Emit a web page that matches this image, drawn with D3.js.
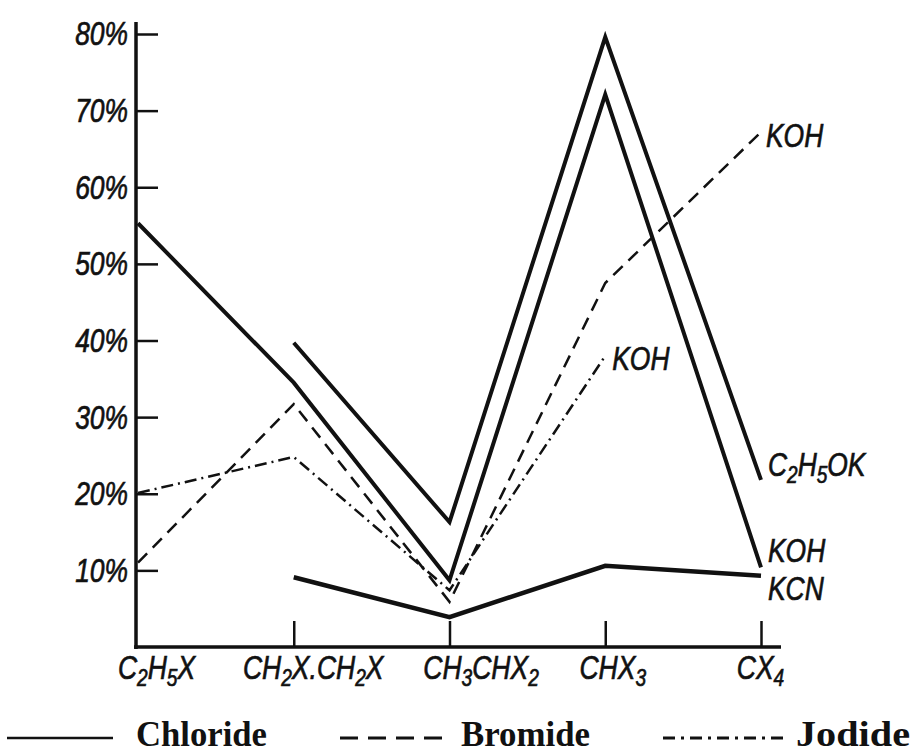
<!DOCTYPE html>
<html lang="en">
<head>
	<meta charset="UTF-8" />
	<script src="https://d3js.org/d3.v7.min.js"></script>
	<style type="text/css">
		body { margin: 0; background: #fff; }
		.lab { font-family: 'Liberation Sans', Arial, sans-serif; font-style: italic; fill: #111; stroke: #111; stroke-width: 0.7px; }
		.leg { font-family: 'Liberation Serif', 'DejaVu Serif', serif; font-weight: bold; fill: #111; }
	</style>
	<title>Halide yields</title>
</head>
<body>
<script type="text/javascript">
	// Data (percent yield per halide type)
	var categories = ["C2H5X", "CH2X.CH2X", "CH3CHX2", "CHX3", "CX4"];
	var yTicks = [10, 20, 30, 40, 50, 60, 70, 80];

	var chlorideKOH  = [55.3, 34.5, 8.7, 72.1, 10.4];
	var chlorideEtOK = [null, 39.7, 16.3, 79.6, 21.8];
	var chlorideKCN  = [null, 9.1, 3.9, 10.6, 9.3];
	var bromideKOH   = [11, 31.7, 5.9, 47.5, 67.2];
	var jodideKOH    = [20.1, 24.8, 7.4, 38, null];

	var legendNames = ["Chloride", "Bromide", "Jodide"];

	var w = 914, h = 754;

	var svg = d3.select("body").append("svg")
	    .attr("width", w)
	    .attr("height", h);

	// Scales
	var xScale = d3.scalePoint()
	    .domain(categories)
	    .range([138, 761]);

	var yScale = d3.scaleLinear()
	    .domain([0, 80])
	    .range([647, 34]);

	// write a formula with its digits as subscripts
	function formula(sel, str) {
		var parts = str.match(/\d+|\D+/g);
		var down = false;
		parts.forEach(function(p) {
			var isNum = /\d/.test(p);
			var t = sel.append("tspan").text(p);
			if (isNum) {
				t.attr("font-size", "0.72em").attr("dy", 7);
				down = true;
			} else if (down) {
				t.attr("dy", -7);
				down = false;
			}
		});
	}

	// squeeze a text horizontally, the book uses a narrow lettering
	function condense(sel, f) {
		sel.each(function() {
			var t = d3.select(this);
			var x = +t.attr("x") || 0, y = +t.attr("y") || 0;
			t.attr("x", 0).attr("y", 0)
			 .attr("transform", "translate(" + x + "," + y + ") scale(" + f + ",1)");
		});
	}

	// y axis: ticks point inward, labels on the left
	var yAxis = svg.append("g")
	    .attr("transform", "translate(136,0)")
	    .call(d3.axisLeft(yScale).tickValues(yTicks).tickSizeInner(-22).tickSizeOuter(0).tickPadding(8)
	        .tickFormat(function(d) { return d + "%"; }));
	yAxis.select(".domain").remove();
	yAxis.selectAll(".tick line").attr("stroke", "#111").attr("stroke-width", 2.5);
	yAxis.selectAll(".tick text")
	    .attr("class", "lab")
	    .attr("font-size", 33)
	    .attr("dy", "0.33em")
	    .call(condense, 0.8);

	// x axis: small upright ticks, formulas below (the print sets them a little off centre)
	var labelShift = [18, 19, 31, 7, -1];
	var xAxis = svg.append("g")
	    .attr("transform", "translate(0," + yScale(0) + ")")
	    .call(d3.axisBottom(xScale).tickSizeInner(-26).tickSizeOuter(0).tickFormat(""));
	xAxis.select(".domain").remove();
	xAxis.selectAll(".tick text").remove();
	xAxis.selectAll(".tick line")
	    .attr("stroke", "#111").attr("stroke-width", 2.5)
	    .filter(function(d, i) { return i === 0; }).remove();
	xAxis.selectAll(".tick").append("text")
	    .attr("class", "lab")
	    .attr("font-size", 34)
	    .attr("text-anchor", "middle")
	    .attr("x", function(d, i) { return labelShift[i]; })
	    .attr("y", 32)
	    .each(function(d) { formula(d3.select(this), d); })
	    .call(condense, 0.78);

	// axis lines
	svg.append("line")
	    .attr("x1", 136).attr("x2", 136)
	    .attr("y1", 22).attr("y2", yScale(0) + 2)
	    .attr("stroke", "#111").attr("stroke-width", 3.5);
	svg.append("line")
	    .attr("x1", 134).attr("x2", 781)
	    .attr("y1", yScale(0)).attr("y2", yScale(0))
	    .attr("stroke", "#111").attr("stroke-width", 3.5);

	var line = d3.line()
	    .defined(function(d) { return d != null; })
	    .x(function(d, i) { return xScale(categories[i]); })
	    .y(function(d) { return yScale(d); });

	var series = [
		{ values: chlorideKOH,  width: 4,   dash: null },
		{ values: chlorideEtOK, width: 4,   dash: null },
		{ values: chlorideKCN,  width: 4.5, dash: null },
		{ values: bromideKOH,   width: 2.5, dash: "13,8" },
		{ values: jodideKOH,    width: 2.5, dash: "12,5,2,5" }
	];

	svg.selectAll(".series")
	    .data(series)
	    .enter()
	    .append("path")
	    .attr("class", "series")
	    .attr("d", function(d) { return line(d.values); })
	    .attr("fill", "none")
	    .attr("stroke", "#111")
	    .attr("stroke-width", function(d) { return d.width; })
	    .attr("stroke-linejoin", "miter")
	    .attr("stroke-dasharray", function(d) { return d.dash; });

	// reagent labels at the line ends
	var ends = [
		{ text: "C2H5OK", cat: 4, v: chlorideEtOK[4], dx: 7, dy: -4 },
		{ text: "KOH",    cat: 4, v: chlorideKOH[4],  dx: 7, dy: -5 },
		{ text: "KCN",    cat: 4, v: chlorideKCN[4],  dx: 7, dy: 24 },
		{ text: "KOH",    cat: 4, v: bromideKOH[4],   dx: 5, dy: 15 },
		{ text: "KOH",    cat: 3, v: jodideKOH[3],    dx: 7, dy: 14 }
	];
	svg.selectAll(".endlab")
	    .data(ends)
	    .enter()
	    .append("text")
	    .attr("class", "lab endlab")
	    .attr("font-size", 33)
	    .attr("x", function(d) { return xScale(categories[d.cat]) + d.dx; })
	    .attr("y", function(d) { return yScale(d.v) + d.dy; })
	    .each(function(d) { formula(d3.select(this), d.text); })
	    .call(condense, 0.8);

	// legend along the bottom
	var legend = [
		{ x1: 7,   x2: 113, tx: 136, tl: 131, dash: null,        sw: 2.5 },
		{ x1: 340, x2: 446, tx: 461, tl: 129, dash: "18,10",     sw: 3 },
		{ x1: 663, x2: 787, tx: 796, tl: 114, dash: "12,6,3,6",  sw: 3 }
	];
	var lg = svg.selectAll(".legend")
	    .data(legend)
	    .enter()
	    .append("g")
	    .attr("class", "legend");
	lg.append("line")
	    .attr("x1", function(d) { return d.x1; })
	    .attr("x2", function(d) { return d.x2; })
	    .attr("y1", 738).attr("y2", 738)
	    .attr("stroke", "#111")
	    .attr("stroke-width", function(d) { return d.sw; })
	    .attr("stroke-dasharray", function(d) { return d.dash; });
	lg.append("text")
	    .attr("class", "leg")
	    .attr("font-size", 35)
	    .attr("x", function(d) { return d.tx; })
	    .attr("y", 746)
	    .attr("textLength", function(d) { return d.tl; })
	    .attr("lengthAdjust", "spacingAndGlyphs")
	    .text(function(d, i) { return legendNames[i]; });

</script>
</body>
</html>
